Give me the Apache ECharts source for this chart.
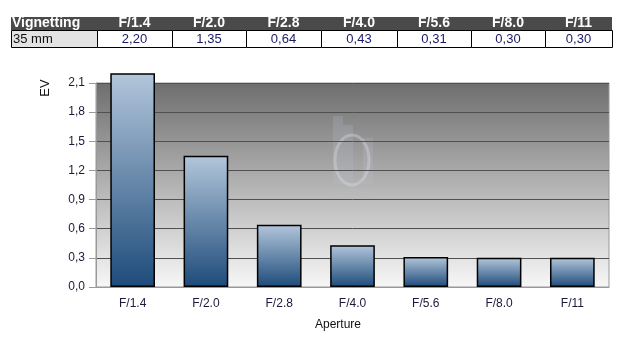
<!DOCTYPE html>
<html><head><meta charset="utf-8">
<script src="https://cdn.jsdelivr.net/npm/echarts@6/dist/echarts.min.js"></script>
<style>html,body{margin:0;padding:0;background:#fff}#c{width:625px;height:344px}</style>
</head><body><div id="c"></div>
<script>
const categories = ['F/1.4','F/2.0','F/2.8','F/4.0','F/5.6','F/8.0','F/11'];
const values = [2.20, 1.35, 0.64, 0.43, 0.31, 0.30, 0.30];
const tableTitle = 'Vignetting';
const rowLabel = '35 mm';
const yTicks = [0, 0.3, 0.6, 0.9, 1.2, 1.5, 1.8, 2.1];

const fmt = v => v.toFixed(2).replace('.', ',');
const colEdges = [11, 97, 172, 246, 321, 397, 471, 545, 612];

const graphics = [];
// header row
graphics.push({type:'rect', shape:{x:colEdges[0], y:17, width:colEdges[8]-colEdges[0], height:13}, style:{fill:'#4a4a4a'}});
graphics.push({type:'text', x:colEdges[0]+1, y:23.5, style:{text:tableTitle, fill:'#fff', font:'bold 14px "Liberation Sans", Arial', verticalAlign:'middle'}});
categories.forEach((c,i)=>{
  const cx=(colEdges[i+1]+colEdges[i+2])/2;
  graphics.push({type:'text', x:cx, y:23.5, style:{text:c, fill:'#fff', font:'bold 14px "Liberation Sans", Arial', align:'center', verticalAlign:'middle'}});
});
// value row
graphics.push({type:'rect', shape:{x:colEdges[0]+0.5, y:30.5, width:colEdges[1]-colEdges[0], height:17}, style:{fill:'#e3e3e3', stroke:'#000', lineWidth:1}});
graphics.push({type:'text', x:colEdges[0]+2, y:39.5, style:{text:rowLabel, fill:'#111', font:'13px "Liberation Sans", Arial', verticalAlign:'middle'}});
values.forEach((v,i)=>{
  const x0=colEdges[i+1], x1=colEdges[i+2];
  graphics.push({type:'rect', shape:{x:x0+0.5, y:30.5, width:x1-x0, height:17}, style:{fill:'#fff', stroke:'#000', lineWidth:1}});
  graphics.push({type:'text', x:(x0+x1)/2, y:39.5, style:{text:fmt(v), fill:'#1a1a66', font:'13px "Liberation Sans", Arial', align:'center', verticalAlign:'middle'}});
});
// watermark (faint)
graphics.push({type:'group', z:1, children:[
  {type:'rect', shape:{x:333, y:116, width:10, height:68}, style:{fill:'rgba(180,192,210,0.22)'}},
  {type:'rect', shape:{x:343, y:125, width:10, height:59}, style:{fill:'rgba(180,192,210,0.22)'}},
  {type:'rect', shape:{x:363, y:138, width:10, height:46}, style:{fill:'rgba(180,192,210,0.22)'}},
  {type:'ellipse', shape:{cx:352, cy:160, rx:17, ry:25}, style:{fill:'none', stroke:'rgba(225,225,225,0.35)', lineWidth:3}},
  {type:'text', x:352, y:191, style:{text:'photozone', fill:'rgba(180,192,210,0.35)', font:'8px "Liberation Sans", Arial', align:'center', verticalAlign:'middle'}}
]});
// axis names
graphics.push({type:'text', x:45, y:88, rotation:Math.PI/2, style:{text:'EV', fill:'#111', font:'13px "Liberation Sans", Arial', align:'center', verticalAlign:'middle'}});
graphics.push({type:'text', x:338, y:325, style:{text:'Aperture', fill:'#111', font:'12px "Liberation Sans", Arial', align:'center', verticalAlign:'middle'}});

const chart = echarts.init(document.getElementById('c'), null, {renderer:'canvas'});
chart.setOption({
  animation:false,
  grid:{left:96, right:16, top:83, bottom:57, show:true, borderColor:'#999', borderWidth:1,
    backgroundColor:new echarts.graphic.LinearGradient(0,0,0,1,[{offset:0,color:'#6e6e6e'},{offset:1,color:'#f7f7f7'}])},
  xAxis:{type:'category', data:categories,
    axisLine:{lineStyle:{color:'#999', width:1}}, axisTick:{show:false},
    axisLabel:{color:'#1a1a3a', fontSize:12, fontFamily:'Liberation Sans, Arial', margin:11}},
  yAxis:{type:'value', min:0, max:2.1, interval:0.3,
    axisLine:{show:true, lineStyle:{color:'#999'}},
    axisTick:{show:true, length:7, lineStyle:{color:'#999'}},
    splitLine:{lineStyle:{color:'#505050', width:1}},
    axisLabel:{color:'#1a1a3a', fontSize:12, fontFamily:'Liberation Sans, Arial', margin:11,
      formatter:v=>{const t=yTicks.find(k=>Math.abs(k-v)<1e-6); return (t!==undefined?t:v).toFixed(1).replace('.',',');}}},
  series:[{type:'bar', data:values, barWidth:'61%', clip:false, z:3,
    itemStyle:{borderColor:'#000', borderWidth:1.5,
      color:new echarts.graphic.LinearGradient(0,0,0,1,[{offset:0,color:'#b3c6db'},{offset:1,color:'#1d4b7a'}])}}],
  graphic:graphics
});
</script></body></html>
